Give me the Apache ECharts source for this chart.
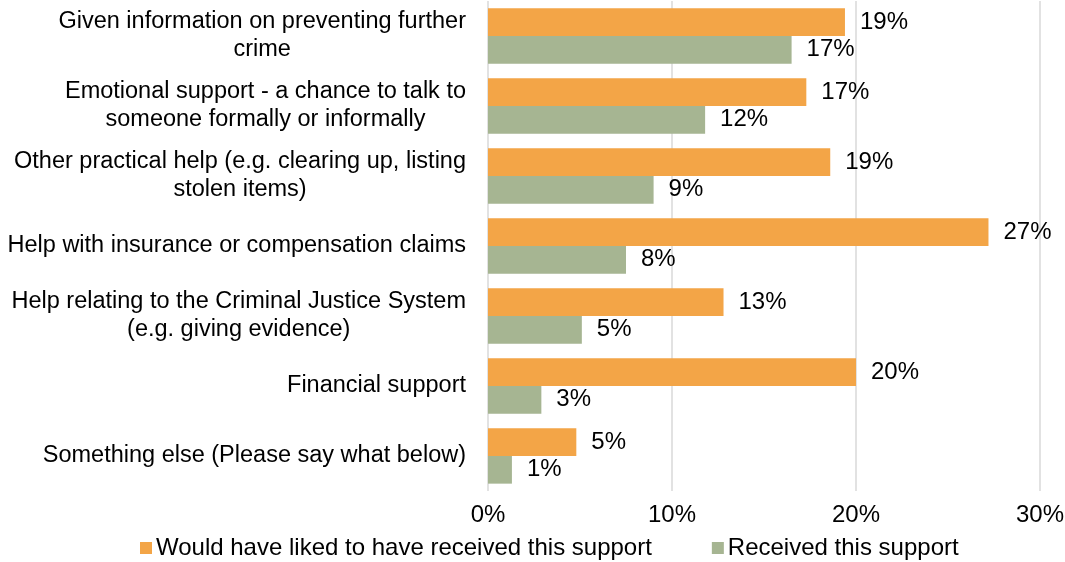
<!DOCTYPE html>
<html>
<head>
<meta charset="utf-8">
<script src="https://cdn.jsdelivr.net/npm/echarts@6/dist/echarts.min.js"></script>
<style>
  html, body { margin: 0; padding: 0; background: #ffffff; }
  #chart { width: 1065px; height: 562px; }
</style>
</head>
<body>
<div id="chart"></div>
<script>
// Types of support: what victims would have liked vs. what they received (%)
const categories = [
  'Given information on preventing further\ncrime',
  'Emotional support - a chance to talk to\nsomeone formally or informally',
  'Other practical help (e.g. clearing up, listing\nstolen items)',
  'Help with insurance or compensation claims',
  'Help relating to the Criminal Justice System\n(e.g. giving evidence)',
  'Financial support',
  'Something else (Please say what below)'
];
const seriesNames = ['Would have liked to have received this support', 'Received this support'];
const wouldHaveLiked = [19.4, 17.3, 18.6, 27.2, 12.8, 20.0, 4.8];
const received = [16.5, 11.8, 9.0, 7.5, 5.1, 2.9, 1.3];
const xTicks = [0, 10, 20, 30];

const FONT = '"Liberation Sans", Arial, sans-serif';
const FS = 24;
const CAT_FS = 23.5;
const chart = echarts.init(document.getElementById('chart'), null, { renderer: 'canvas' });

const labelStyle = {
  show: true,
  position: 'right',
  distance: 15,
  color: '#000000',
  fontFamily: FONT,
  fontSize: FS,
  formatter: p => Math.round(p.value) + '%'
};

chart.setOption({
  animation: false,
  backgroundColor: '#ffffff',
  grid: { left: 488, right: 25, top: 1, bottom: 71, containLabel: false, outerBoundsMode: 'none' },
  legend: {
    data: seriesNames,
    left: 135,
    top: 531,
    icon: 'rect',
    itemWidth: 12,
    itemHeight: 12,
    itemGap: 60,
    textStyle: { fontFamily: FONT, fontSize: FS, color: '#000000', padding: [0, 0, 0, -1] }
  },
  xAxis: {
    type: 'value',
    min: xTicks[0],
    max: xTicks[xTicks.length - 1],
    interval: 10,
    axisLine: { show: false },
    axisTick: { show: false },
    axisLabel: {
      margin: 12,
      color: '#000000',
      fontFamily: FONT,
      fontSize: FS,
      formatter: v => v + '%'
    },
    splitLine: { show: true, lineStyle: { color: '#d9d9d9', width: 1.5 } }
  },
  yAxis: {
    type: 'category',
    data: categories,
    inverse: true,
    axisLine: { show: false },
    axisTick: { show: false },
    axisLabel: {
      margin: 22,
      color: '#000000',
      fontFamily: FONT,
      fontSize: CAT_FS,
      lineHeight: 28,
      formatter: v => v.split('\n').map(line => '{c|' + line + '}').join('\n'),
      rich: {
        c: { align: 'center', fontFamily: FONT, fontSize: CAT_FS, lineHeight: 28, color: '#000000' }
      }
    }
  },
  series: [
    {
      name: seriesNames[0],
      type: 'bar',
      data: wouldHaveLiked,
      itemStyle: { color: '#f3a547' },
      barGap: '0%',
      barCategoryGap: '21%',
      label: labelStyle
    },
    {
      name: seriesNames[1],
      type: 'bar',
      data: received,
      itemStyle: { color: '#a6b592' },
      barGap: '0%',
      barCategoryGap: '21%',
      label: labelStyle
    }
  ]
});
</script>
</body>
</html>
